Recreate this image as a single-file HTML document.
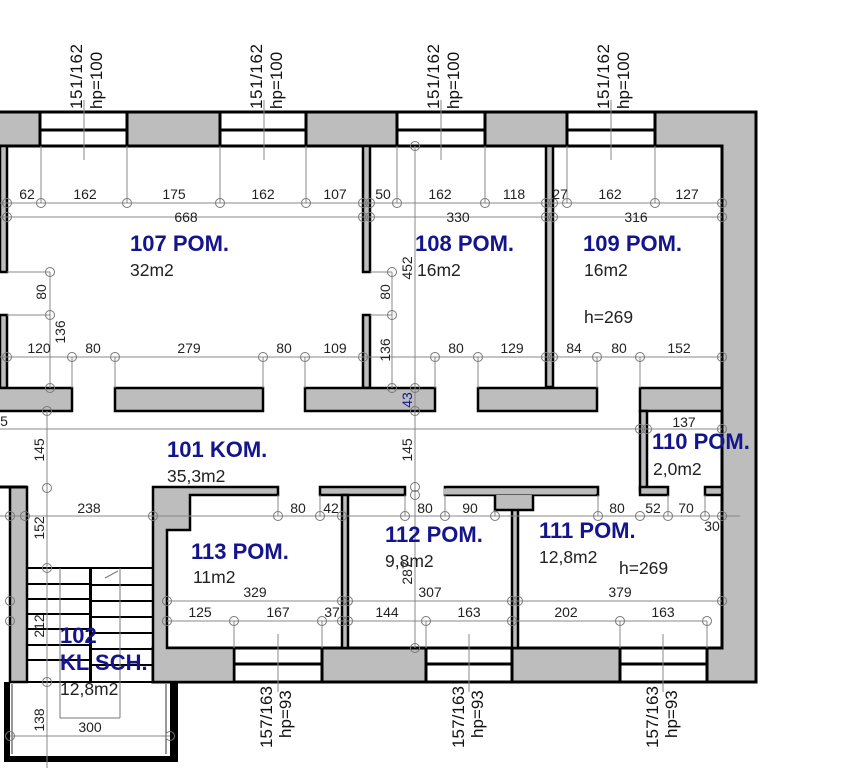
<!DOCTYPE html>
<html><head><meta charset="utf-8"><style>
html,body{margin:0;padding:0;background:#fff;}
svg{display:block;}
text{font-family:"Liberation Sans",Arial,sans-serif;}
.d{font-size:14px;fill:#222;}
.r{font-size:22px;font-weight:bold;fill:#14148c;}
.a{font-size:17.5px;fill:#222;}
.w{font-size:17px;fill:#111;}
</style></head><body>
<svg width="860" height="768" viewBox="0 0 860 768" xmlns="http://www.w3.org/2000/svg">
<rect width="860" height="768" fill="#fff"/>
<g fill="#bdbdbd" stroke="#000" stroke-width="3">
<rect x="-5" y="112" width="761" height="34"/>
<rect x="722" y="112" width="34" height="570"/>
<rect x="153" y="648" width="603" height="34"/>
</g>
<rect x="-5" y="113.5" width="759" height="31" fill="#bdbdbd"/>
<rect x="723.5" y="113.5" width="31" height="567" fill="#bdbdbd"/>
<g fill="#fff" stroke="#000" stroke-width="3">
<rect x="40" y="112" width="87" height="34"/>
<rect x="220" y="112" width="86" height="34"/>
<rect x="397" y="112" width="88" height="34"/>
<rect x="567" y="112" width="88" height="34"/>
<rect x="234" y="648" width="88" height="34"/>
<rect x="426" y="648" width="86" height="34"/>
<rect x="620" y="648" width="87" height="34"/>
</g>
<g stroke="#000" stroke-width="3">
<line x1="40" y1="130" x2="127" y2="130"/><line x1="220" y1="130" x2="306" y2="130"/>
<line x1="397" y1="130" x2="485" y2="130"/><line x1="567" y1="130" x2="655" y2="130"/>
<line x1="234" y1="664" x2="322" y2="664"/><line x1="426" y1="664" x2="512" y2="664"/>
<line x1="620" y1="664" x2="707" y2="664"/>
</g>
<g fill="#bdbdbd" stroke="#000" stroke-width="2.5">
<rect x="0" y="146" width="7" height="126"/>
<rect x="0" y="315" width="7" height="73"/>
<rect x="363" y="146" width="7" height="126"/>
<rect x="363" y="315" width="7" height="73"/>
<rect x="546" y="146" width="7" height="241"/>
<rect x="-5" y="388" width="77" height="23"/>
<rect x="115" y="388" width="148" height="23"/>
<rect x="305" y="388" width="130" height="23"/>
<rect x="478" y="388" width="119" height="23"/>
<rect x="640" y="388" width="82" height="23"/>
<rect x="640" y="411" width="7" height="80"/>
<rect x="640" y="487" width="28" height="8"/>
<rect x="705" y="487" width="17" height="8"/>
<rect x="320" y="487" width="85" height="8"/>
<rect x="342" y="495" width="6" height="153"/>
<rect x="445" y="487" width="153" height="8"/>
<rect x="512" y="508" width="6" height="140"/>
</g>
<path d="M495 495 L495 510 L533 510 L533 495" fill="#bdbdbd" stroke="#000" stroke-width="2.5"/>
<rect x="444" y="488.5" width="152" height="6" fill="#bdbdbd"/>
<path d="M153 682 L153 487 L278 487 L278 495 L190 495 L190 530 L167 530 L167 648 L234 648 L234 682 Z" fill="#bdbdbd" stroke="#000" stroke-width="2.5"/>
<rect x="10" y="487" width="17" height="195" fill="#bdbdbd" stroke="#000" stroke-width="2.5"/>
<line x1="0" y1="487" x2="27" y2="487" stroke="#000" stroke-width="3"/>
<g stroke="#000" stroke-width="2" fill="none">
<rect x="27" y="568" width="126" height="114"/>
<line x1="27" y1="584" x2="89" y2="584"/><line x1="27" y1="599" x2="89" y2="599"/>
<line x1="27" y1="614" x2="89" y2="614"/><line x1="27" y1="629" x2="89" y2="629"/>
<line x1="27" y1="645" x2="89" y2="645"/><line x1="27" y1="660" x2="89" y2="660"/>
<line x1="92" y1="585" x2="153" y2="585"/><line x1="92" y1="601" x2="153" y2="601"/>
<line x1="92" y1="617" x2="153" y2="617"/><line x1="92" y1="633" x2="153" y2="633"/>
<line x1="92" y1="649" x2="153" y2="649"/><line x1="92" y1="665" x2="153" y2="665"/>
</g>
<rect x="89" y="568" width="3" height="114" fill="#000"/>
<g stroke="#777" stroke-width="1" fill="none">
<line x1="60" y1="568" x2="60" y2="718"/><line x1="120" y1="568" x2="120" y2="718"/><line x1="60" y1="718" x2="120" y2="718"/>
<line x1="105" y1="578" x2="118" y2="571"/>
</g>
<g fill="#000">
<rect x="4" y="682" width="6" height="80"/><rect x="170" y="682" width="8" height="80"/><rect x="4" y="756" width="174" height="6"/>
</g>
<g stroke="#333" stroke-width="1"><line x1="12" y1="684" x2="12" y2="754"/><line x1="166" y1="684" x2="166" y2="754"/></g>
<g stroke="#888" stroke-width="1" fill="none">
<line x1="0" y1="203" x2="722" y2="203"/>
<line x1="0" y1="217" x2="722" y2="217"/>
<line x1="0" y1="357" x2="722" y2="357"/>
<line x1="0" y1="429" x2="722" y2="429"/>
<line x1="0" y1="516" x2="740" y2="516"/>
<line x1="167" y1="601" x2="722" y2="601"/>
<line x1="167" y1="621" x2="707" y2="621"/>
<line x1="10" y1="736" x2="170" y2="736"/>
<line x1="415" y1="146" x2="415" y2="648"/>
<line x1="47" y1="411" x2="47" y2="768"/>
<line x1="50" y1="272" x2="50" y2="388"/>
<line x1="392" y1="272" x2="392" y2="388"/>
<line x1="7" y1="272" x2="50" y2="272"/><line x1="7" y1="315" x2="50" y2="315"/>
<line x1="370" y1="272" x2="392" y2="272"/><line x1="370" y1="315" x2="392" y2="315"/>
<line x1="84" y1="100" x2="84" y2="160"/><line x1="264" y1="100" x2="264" y2="160"/>
<line x1="441" y1="100" x2="441" y2="160"/><line x1="611" y1="100" x2="611" y2="160"/>
<line x1="278" y1="634" x2="278" y2="692"/><line x1="469" y1="634" x2="469" y2="692"/><line x1="663" y1="634" x2="663" y2="692"/>
<line x1="41" y1="146" x2="41" y2="203"/><line x1="127" y1="146" x2="127" y2="203"/>
<line x1="220" y1="146" x2="220" y2="203"/><line x1="306" y1="146" x2="306" y2="203"/>
<line x1="397" y1="146" x2="397" y2="203"/><line x1="485" y1="146" x2="485" y2="203"/>
<line x1="567" y1="146" x2="567" y2="203"/><line x1="655" y1="146" x2="655" y2="203"/>
<line x1="72" y1="357" x2="72" y2="388"/><line x1="115" y1="357" x2="115" y2="388"/>
<line x1="263" y1="357" x2="263" y2="388"/><line x1="305" y1="357" x2="305" y2="388"/>
<line x1="435" y1="357" x2="435" y2="388"/><line x1="478" y1="357" x2="478" y2="388"/>
<line x1="597" y1="357" x2="597" y2="388"/><line x1="640" y1="357" x2="640" y2="388"/>
<line x1="278" y1="495" x2="278" y2="516"/><line x1="320" y1="495" x2="320" y2="516"/>
<line x1="405" y1="495" x2="405" y2="516"/><line x1="445" y1="495" x2="445" y2="516"/>
<line x1="495" y1="510" x2="495" y2="516"/><line x1="598" y1="495" x2="598" y2="516"/>
<line x1="668" y1="495" x2="668" y2="516"/><line x1="705" y1="495" x2="705" y2="516"/>
<line x1="234" y1="621" x2="234" y2="648"/><line x1="322" y1="621" x2="322" y2="648"/>
<line x1="426" y1="621" x2="426" y2="648"/><line x1="620" y1="621" x2="620" y2="648"/>
<line x1="707" y1="621" x2="707" y2="648"/>
</g>
<g stroke="#777" stroke-width="1" fill="none">
<circle cx="7" cy="203" r="4.5"/><circle cx="41" cy="203" r="4.5"/><circle cx="127" cy="203" r="4.5"/><circle cx="220" cy="203" r="4.5"/><circle cx="306" cy="203" r="4.5"/><circle cx="363" cy="203" r="4.5"/><circle cx="370" cy="203" r="4.5"/><circle cx="397" cy="203" r="4.5"/><circle cx="485" cy="203" r="4.5"/><circle cx="546" cy="203" r="4.5"/><circle cx="553" cy="203" r="4.5"/><circle cx="567" cy="203" r="4.5"/><circle cx="655" cy="203" r="4.5"/><circle cx="722" cy="203" r="4.5"/>
<circle cx="7" cy="217" r="4.5"/><circle cx="363" cy="217" r="4.5"/><circle cx="370" cy="217" r="4.5"/><circle cx="546" cy="217" r="4.5"/><circle cx="553" cy="217" r="4.5"/><circle cx="722" cy="217" r="4.5"/>
<circle cx="7" cy="357" r="4.5"/><circle cx="72" cy="357" r="4.5"/><circle cx="115" cy="357" r="4.5"/><circle cx="263" cy="357" r="4.5"/><circle cx="305" cy="357" r="4.5"/><circle cx="363" cy="357" r="4.5"/><circle cx="435" cy="357" r="4.5"/><circle cx="478" cy="357" r="4.5"/><circle cx="546" cy="357" r="4.5"/><circle cx="553" cy="357" r="4.5"/><circle cx="597" cy="357" r="4.5"/><circle cx="640" cy="357" r="4.5"/><circle cx="722" cy="357" r="4.5"/>
<circle cx="50" cy="272" r="4.5"/><circle cx="50" cy="315" r="4.5"/><circle cx="50" cy="388" r="4.5"/>
<circle cx="392" cy="272" r="4.5"/><circle cx="392" cy="315" r="4.5"/><circle cx="392" cy="388" r="4.5"/>
<circle cx="415" cy="146" r="4.5"/><circle cx="415" cy="388" r="4.5"/><circle cx="415" cy="411" r="4.5"/><circle cx="415" cy="487" r="4.5"/><circle cx="415" cy="495" r="4.5"/><circle cx="415" cy="648" r="4.5"/>
<circle cx="47" cy="411" r="4.5"/><circle cx="47" cy="488" r="4.5"/><circle cx="47" cy="568" r="4.5"/><circle cx="47" cy="682" r="4.5"/>
<circle cx="640" cy="429" r="4.5"/><circle cx="647" cy="429" r="4.5"/><circle cx="722" cy="429" r="4.5"/>
<circle cx="10" cy="516" r="4.5"/><circle cx="25" cy="516" r="4.5"/><circle cx="153" cy="516" r="4.5"/><circle cx="278" cy="516" r="4.5"/><circle cx="320" cy="516" r="4.5"/><circle cx="342" cy="516" r="4.5"/><circle cx="405" cy="516" r="4.5"/><circle cx="445" cy="516" r="4.5"/><circle cx="495" cy="516" r="4.5"/><circle cx="598" cy="516" r="4.5"/><circle cx="640" cy="516" r="4.5"/><circle cx="668" cy="516" r="4.5"/><circle cx="705" cy="516" r="4.5"/><circle cx="722" cy="516" r="4.5"/>
<circle cx="10" cy="601" r="4.5"/><circle cx="167" cy="601" r="4.5"/><circle cx="342" cy="601" r="4.5"/><circle cx="348" cy="601" r="4.5"/><circle cx="512" cy="601" r="4.5"/><circle cx="518" cy="601" r="4.5"/><circle cx="722" cy="601" r="4.5"/>
<circle cx="10" cy="621" r="4.5"/><circle cx="167" cy="621" r="4.5"/><circle cx="234" cy="621" r="4.5"/><circle cx="322" cy="621" r="4.5"/><circle cx="342" cy="621" r="4.5"/><circle cx="348" cy="621" r="4.5"/><circle cx="426" cy="621" r="4.5"/><circle cx="512" cy="621" r="4.5"/><circle cx="620" cy="621" r="4.5"/><circle cx="707" cy="621" r="4.5"/>
<circle cx="10" cy="736" r="4.5"/><circle cx="170" cy="736" r="4.5"/>
</g>
<g class="d" text-anchor="middle">
<text x="27" y="199">62</text><text x="85" y="199">162</text><text x="174" y="199">175</text><text x="263" y="199">162</text><text x="335" y="199">107</text><text x="383" y="199">50</text><text x="440" y="199">162</text><text x="514" y="199">118</text><text x="560" y="199">27</text><text x="610" y="199">162</text><text x="687" y="199">127</text>
<text x="186" y="222">668</text><text x="458" y="222">330</text><text x="636" y="222">316</text>
<text x="39" y="353">120</text><text x="93" y="353">80</text><text x="189" y="353">279</text><text x="284" y="353">80</text><text x="335" y="353">109</text><text x="456" y="353">80</text><text x="512" y="353">129</text><text x="574" y="353">84</text><text x="619" y="353">80</text><text x="679" y="353">152</text>
<text x="4" y="426">5</text><text x="684" y="427">137</text>
<text x="89" y="513">238</text><text x="298" y="513">80</text><text x="331" y="513">42</text><text x="425" y="513">80</text><text x="470" y="513">90</text><text x="617" y="513">80</text><text x="653" y="513">52</text><text x="686" y="513">70</text><text x="712" y="531">30</text>
<text x="255" y="597">329</text><text x="430" y="597">307</text><text x="620" y="597">379</text>
<text x="200" y="617">125</text><text x="278" y="617">167</text><text x="332" y="617">37</text><text x="387" y="617">144</text><text x="469" y="617">163</text><text x="566" y="617">202</text><text x="663" y="617">163</text>
<text x="90" y="732">300</text>
</g>
<g class="d" text-anchor="middle">
<text transform="translate(46,292) rotate(-90)">80</text>
<text transform="translate(65,332) rotate(-90)">136</text>
<text transform="translate(390,292) rotate(-90)">80</text>
<text transform="translate(390,350) rotate(-90)">136</text>
<text transform="translate(412,268) rotate(-90)">452</text>
<text transform="translate(412,400) rotate(-90)" fill="#14148c">43</text>
<text transform="translate(44,450) rotate(-90)">145</text>
<text transform="translate(412,450) rotate(-90)">145</text>
<text transform="translate(44,528) rotate(-90)">152</text>
<text transform="translate(44,626) rotate(-90)">212</text>
<text transform="translate(44,720) rotate(-90)">138</text>
<text transform="translate(412,573) rotate(-90)">287</text>
</g>
<g class="w">
<text transform="translate(82,109) rotate(-90)" textLength="65">151/162</text>
<text transform="translate(102,109) rotate(-90)">hp=100</text>
<text transform="translate(262,109) rotate(-90)" textLength="65">151/162</text>
<text transform="translate(282,109) rotate(-90)">hp=100</text>
<text transform="translate(439,109) rotate(-90)" textLength="65">151/162</text>
<text transform="translate(459,109) rotate(-90)">hp=100</text>
<text transform="translate(609,109) rotate(-90)" textLength="65">151/162</text>
<text transform="translate(629,109) rotate(-90)">hp=100</text>
<text transform="translate(272,748) rotate(-90)" textLength="62">157/163</text>
<text transform="translate(291,738) rotate(-90)">hp=93</text>
<text transform="translate(464,748) rotate(-90)" textLength="62">157/163</text>
<text transform="translate(483,738) rotate(-90)">hp=93</text>
<text transform="translate(658,748) rotate(-90)" textLength="62">157/163</text>
<text transform="translate(677,738) rotate(-90)">hp=93</text>
</g>
<g class="r">
<text x="130" y="251">107 POM.</text>
<text x="415" y="251">108 POM.</text>
<text x="583" y="251">109 POM.</text>
<text x="167" y="457">101 KOM.</text>
<text x="652" y="449">110 POM.</text>
<text x="191" y="559">113 POM.</text>
<text x="385" y="542">112 POM.</text>
<text x="539" y="538">111 POM.</text>
<text x="60" y="643">102</text>
<text x="60" y="670">KL SCH.</text>
</g>
<g class="a">
<text x="130" y="276">32m2</text>
<text x="417" y="276">16m2</text>
<text x="584" y="276">16m2</text>
<text x="584" y="323">h=269</text>
<text x="167" y="482">35,3m2</text>
<text x="653" y="475">2,0m2</text>
<text x="193" y="583">11m2</text>
<text x="385" y="567">9,8m2</text>
<text x="539" y="563">12,8m2</text>
<text x="619" y="574">h=269</text>
<text x="60" y="695">12,8m2</text>
</g>
</svg>
</body></html>
